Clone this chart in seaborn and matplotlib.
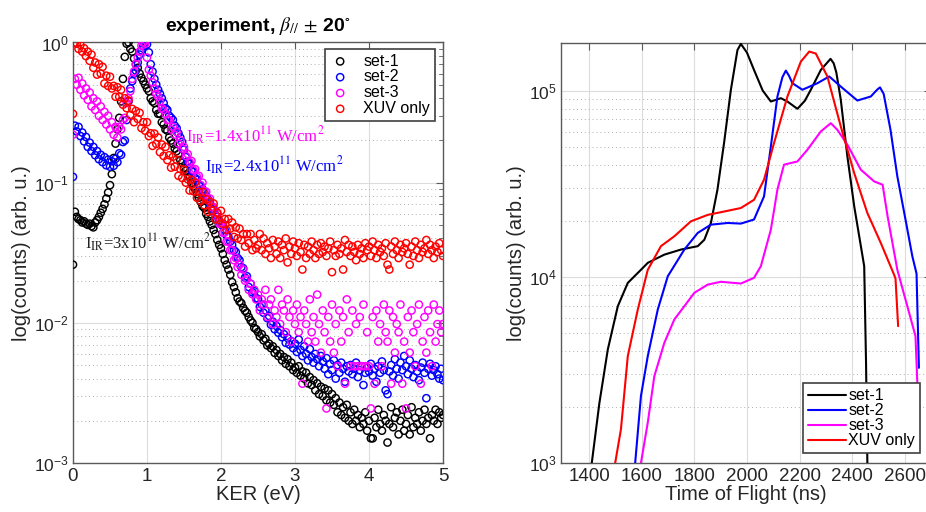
import numpy as np
import pandas as pd
import matplotlib
matplotlib.use("Agg")
import matplotlib.pyplot as plt
import seaborn as sns
from matplotlib.ticker import LogLocator, NullFormatter, FixedLocator

# ---------------- data: left panel (KER spectra, x = 0 ... 5 eV, 201 samples) ----------------
ker = np.linspace(0.0, 5.0, 201)

set1_ker = [
    0.026, 0.062, 0.057, 0.055, 0.054, 0.052, 0.053, 0.051, 0.050, 0.051,
    0.049, 0.048, 0.052, 0.054, 0.057, 0.061, 0.065, 0.070, 0.077, 0.085,
    0.096, 0.115, 0.15, 0.19, 0.24, 0.29, 0.38, 0.55, 0.79, 0.98,
    1.0, 0.90, 0.86, 0.77, 0.70, 0.66, 0.60, 0.56, 0.53, 0.50,
    0.47, 0.45, 0.40, 0.38, 0.37, 0.33, 0.31, 0.31, 0.27, 0.26,
    0.24, 0.235, 0.21, 0.20, 0.19, 0.175, 0.168, 0.16, 0.145, 0.139,
    0.128, 0.122, 0.114, 0.109, 0.100, 0.094, 0.090, 0.083, 0.078, 0.073,
    0.068, 0.066, 0.060, 0.057, 0.053, 0.050, 0.046, 0.043, 0.039, 0.036,
    0.034, 0.031, 0.028, 0.026, 0.024, 0.022, 0.0195, 0.018, 0.0165, 0.0150,
    0.0142, 0.0138, 0.0128, 0.0122, 0.0118, 0.0110, 0.0104, 0.0100, 0.0092, 0.0090,
    0.0086, 0.0080, 0.0083, 0.0075, 0.0077, 0.0069, 0.0071, 0.0066, 0.0068, 0.0061,
    0.0064, 0.0058, 0.0060, 0.0054, 0.0057, 0.0051, 0.0055, 0.0049, 0.0052, 0.0046,
    0.0048, 0.0044, 0.0049, 0.0042, 0.0045, 0.0040, 0.0044, 0.0037, 0.0041, 0.0036,
    0.0039, 0.0033, 0.0037, 0.0031, 0.0035, 0.0030, 0.0034, 0.0028, 0.0033, 0.0027,
    0.0031, 0.0026, 0.0029, 0.0023, 0.0027, 0.0022, 0.0025, 0.0021, 0.0026, 0.0020,
    0.0023, 0.0019, 0.0024, 0.0020, 0.0022, 0.0018, 0.0021, 0.0019, 0.0023, 0.0017,
    0.0020, 0.0015, 0.0015, 0.0021, 0.0018, 0.0024, 0.0019, 0.0017, 0.0022, 0.0020,
    0.0014, 0.0019, 0.0025, 0.0018, 0.0021, 0.0023, 0.0016, 0.0020, 0.0024, 0.0017,
    0.0019, 0.0022, 0.0016, 0.0025, 0.0018, 0.0021, 0.0019, 0.0023, 0.0017, 0.0020,
    0.0024, 0.0019, 0.0021, 0.0015, 0.0022, 0.0020, 0.0024, 0.0019, 0.0023, 0.0021,
    0.0022,
]

set2_ker = [
    0.110, 0.255, 0.232, 0.250, 0.215, 0.228, 0.197, 0.212, 0.180, 0.193,
    0.168, 0.180, 0.157, 0.168, 0.147, 0.158, 0.140, 0.152, 0.133, 0.146,
    0.130, 0.142, 0.132, 0.148, 0.140, 0.162, 0.158, 0.195, 0.20, 0.28,
    0.38, 0.47, 0.53, 0.60, 0.63, 0.72, 0.82, 0.88, 0.94, 1.0,
    0.97, 0.85, 0.70, 0.62, 0.55, 0.50, 0.46, 0.43, 0.40, 0.37,
    0.34, 0.33, 0.30, 0.29, 0.28, 0.255, 0.245, 0.225, 0.21, 0.195,
    0.172, 0.152, 0.142, 0.136, 0.122, 0.119, 0.108, 0.105, 0.097, 0.094,
    0.090, 0.084, 0.080, 0.076, 0.071, 0.067, 0.064, 0.059, 0.057, 0.053,
    0.051, 0.049, 0.046, 0.042, 0.041, 0.038, 0.036, 0.033, 0.032, 0.029,
    0.028, 0.025, 0.0245, 0.021, 0.0215, 0.018, 0.019, 0.0165, 0.0168, 0.0150,
    0.0148, 0.0130, 0.0135, 0.0118, 0.0123, 0.0108, 0.0112, 0.0097, 0.0102, 0.0090,
    0.0095, 0.0085, 0.0089, 0.0079, 0.0083, 0.0072, 0.0078, 0.0070, 0.0074, 0.0066,
    0.0071, 0.0062, 0.0076, 0.0064, 0.0058, 0.0068, 0.0060, 0.0054, 0.0065, 0.0057,
    0.0052, 0.0060, 0.0055, 0.0049, 0.0058, 0.0053, 0.0047, 0.0056, 0.0043, 0.0051,
    0.0046, 0.0054, 0.0040, 0.0050, 0.0044, 0.0052, 0.0047, 0.0038, 0.0049, 0.0045,
    0.0050, 0.0043, 0.0047, 0.0052, 0.0041, 0.0046, 0.0049, 0.0036, 0.0044, 0.0048,
    0.0045, 0.0051, 0.0042, 0.0047, 0.0038, 0.0049, 0.0044, 0.0053, 0.0046, 0.0033,
    0.0031, 0.0045, 0.0050, 0.0042, 0.0055, 0.0047, 0.0040, 0.0052, 0.0046, 0.0058,
    0.0049, 0.0043, 0.0054, 0.0047, 0.0041, 0.0050, 0.0045, 0.0039, 0.0048, 0.0052,
    0.0044, 0.0029, 0.0047, 0.0051, 0.0042, 0.0046, 0.0049, 0.0043, 0.0040, 0.0047,
    0.0039,
]

set3_ker = [
    0.22, 0.55, 0.50, 0.56, 0.46, 0.51, 0.42, 0.47, 0.39, 0.44,
    0.35, 0.40, 0.33, 0.38, 0.30, 0.35, 0.28, 0.32, 0.26, 0.30,
    0.24, 0.27, 0.22, 0.25, 0.21, 0.25, 0.24, 0.28, 0.29, 0.37,
    0.40, 0.45, 0.55, 0.62, 0.70, 0.78, 0.86, 0.95, 1.0, 0.98,
    0.78, 0.64, 0.58, 0.52, 0.47, 0.43, 0.41, 0.38, 0.34, 0.33,
    0.31, 0.28, 0.28, 0.24, 0.25, 0.22, 0.23, 0.19, 0.20, 0.175,
    0.18, 0.155, 0.16, 0.14, 0.143, 0.123, 0.125, 0.11, 0.112, 0.096,
    0.10, 0.087, 0.086, 0.075, 0.077, 0.067, 0.067, 0.058, 0.060, 0.051,
    0.051, 0.044, 0.044, 0.038, 0.038, 0.033, 0.033, 0.028, 0.029, 0.025,
    0.026, 0.022, 0.024, 0.020, 0.0205, 0.0172, 0.0190, 0.0160, 0.0172, 0.0147,
    0.0159, 0.01225, 0.0147, 0.0135, 0.0172, 0.0110, 0.0135, 0.0147, 0.0098, 0.01225,
    0.0110, 0.0172, 0.0098, 0.0135, 0.01225, 0.00858, 0.0147, 0.0110, 0.00735, 0.01225,
    0.0098, 0.0135, 0.00858, 0.0110, 0.00368, 0.01225, 0.0098, 0.00735, 0.0147, 0.00858,
    0.0110, 0.00735, 0.0159, 0.0098, 0.00613, 0.01225, 0.00858, 0.00245, 0.0110, 0.00735,
    0.0135, 0.00613, 0.0098, 0.0049, 0.01225, 0.00735, 0.0110, 0.00368, 0.0147, 0.00858,
    0.0049, 0.01225, 0.0049, 0.0098, 0.0049, 0.0110, 0.0049, 0.0135, 0.0049, 0.00858,
    0.0049, 0.00245, 0.0110, 0.00368, 0.01225, 0.00735, 0.0098, 0.0049, 0.0135, 0.00858,
    0.00735, 0.01225, 0.00368, 0.0110, 0.00613, 0.0098, 0.00858, 0.0135, 0.00368, 0.00735,
    0.00245, 0.0110, 0.00613, 0.01225, 0.00858, 0.0049, 0.0098, 0.0135, 0.00368, 0.00735,
    0.0110, 0.00613, 0.01225, 0.00858, 0.0049, 0.0135, 0.00735, 0.0098, 0.01225, 0.00858,
    0.0098,
]

xuv_ker = [
    0.31, 1.0, 0.98, 0.90, 0.96, 0.86, 0.91, 0.80, 0.86, 0.74,
    0.82, 0.66, 0.72, 0.59, 0.70, 0.60, 0.67, 0.51, 0.58, 0.49,
    0.57, 0.47, 0.49, 0.41, 0.48, 0.41, 0.46, 0.36, 0.40, 0.34,
    0.385, 0.305, 0.336, 0.27, 0.325, 0.285, 0.315, 0.245, 0.27, 0.235,
    0.27, 0.215, 0.225, 0.183, 0.224, 0.189, 0.21, 0.165, 0.187, 0.155,
    0.18, 0.145, 0.157, 0.128, 0.153, 0.13, 0.146, 0.112, 0.125, 0.108,
    0.124, 0.10, 0.106, 0.088, 0.105, 0.087, 0.10, 0.078, 0.086, 0.074,
    0.086, 0.069, 0.076, 0.062, 0.073, 0.063, 0.071, 0.055, 0.061, 0.054,
    0.063, 0.051, 0.055, 0.046, 0.055, 0.047, 0.052, 0.041, 0.048, 0.040,
    0.047, 0.039, 0.043, 0.035, 0.043, 0.037, 0.043, 0.033, 0.039, 0.034,
    0.036, 0.043, 0.033, 0.040, 0.031, 0.037, 0.034, 0.029, 0.039, 0.035,
    0.031, 0.038, 0.029, 0.036, 0.033, 0.040, 0.027, 0.035, 0.031, 0.038,
    0.034, 0.030, 0.037, 0.032, 0.024, 0.036, 0.029, 0.035, 0.031, 0.038,
    0.033, 0.029, 0.036, 0.031, 0.037, 0.032, 0.035, 0.030, 0.034, 0.038,
    0.023, 0.033, 0.030, 0.036, 0.031, 0.034, 0.024, 0.039, 0.032, 0.036,
    0.030, 0.035, 0.032, 0.028, 0.036, 0.031, 0.034, 0.029, 0.037, 0.033,
    0.035, 0.030, 0.038, 0.033, 0.029, 0.036, 0.032, 0.034, 0.030, 0.037,
    0.026, 0.024, 0.035, 0.031, 0.038, 0.033, 0.029, 0.036, 0.032, 0.034,
    0.037, 0.031, 0.026, 0.035, 0.030, 0.038, 0.033, 0.029, 0.036, 0.032,
    0.034, 0.039, 0.031, 0.036, 0.033, 0.029, 0.035, 0.032, 0.037, 0.033,
    0.030,
]

# ---------------- data: right panel (time-of-flight spectra) ----------------
tof1 = [1410, 1439, 1471, 1509, 1547, 1597, 1623, 1686, 1749, 1813, 1838, 1863, 1888, 1913,
        1939, 1964, 1977, 2000, 2027, 2060, 2091, 2129, 2154, 2192, 2220, 2243, 2281, 2318,
        2330, 2340, 2357, 2382, 2408, 2446, 2453, 2458]
cnt1 = [1000, 2100, 4070, 6950, 9270, 10900, 11880, 13150, 14000, 14600, 15800, 19450, 29400, 52200,
        100900, 165000, 178000, 160000, 129000, 100000, 87300, 91000, 87300, 79800, 88000, 101000, 129000, 148000,
        140000, 125000, 89100, 44300, 23900, 11400, 3450, 1000]

tof2 = [1575, 1597, 1623, 1661, 1699, 1762, 1813, 1863, 1927, 1977, 2027, 2065, 2091, 2116,
        2135, 2148, 2160, 2173, 2211, 2268, 2313, 2357, 2420, 2471, 2495, 2506, 2520, 2546,
        2572, 2603, 2629, 2645, 2654]
cnt2 = [1000, 2290, 3750, 6670, 10060, 14000, 17200, 19050, 19450, 19300, 20300, 27000, 50100, 92900,
        118000, 128000, 120000, 109500, 101000, 109500, 119000, 105000, 88400, 92900, 101000, 104000, 96000, 61500,
        34600, 20300, 12900, 10400, 3245]

tof3 = [1597, 1623, 1648, 1686, 1724, 1762, 1800, 1851, 1901, 1977, 2027, 2053, 2091, 2116,
        2141, 2192, 2230, 2281, 2319, 2344, 2382, 2433, 2484, 2516, 2535, 2572, 2610, 2641,
        2648, 2650]
cnt3 = [1000, 1650, 2930, 4420, 5900, 6950, 8200, 9080, 9400, 9200, 9870, 11400, 17900, 29400,
        40000, 41600, 48100, 60300, 66800, 61500, 51200, 37600, 32500, 31200, 21100, 10900, 6950, 4800,
        2700, 2590]

tof4 = [1499, 1521, 1547, 1585, 1623, 1673, 1724, 1787, 1851, 1913, 1977, 2027, 2065, 2103,
        2154, 2205, 2237, 2262, 2306, 2357, 2408, 2458, 2509, 2559, 2565, 2575]
cnt4 = [1000, 1520, 3750, 6670, 10900, 14600, 16500, 19850, 21500, 22400, 23400, 25900, 33200, 52200,
        92900, 143000, 162000, 158000, 119000, 64100, 36000, 22000, 15200, 10300, 9800, 5430]

labels = ["set-1", "set-2", "set-3", "XUV only"]
colors = ["#000000", "#0000ff", "#ff00ff", "#ff0000"]
ker_tick_vals = [0, 1, 2, 3, 4, 5]
tof_tick_vals = [1400, 1600, 1800, 2000, 2200, 2400, 2600]

# ---------------- style ----------------
sns.set_style("white")
plt.rcParams["font.family"] = ["Liberation Sans", "DejaVu Sans"]
plt.rcParams["mathtext.fontset"] = "stix"
plt.rcParams["axes.unicode_minus"] = True

TXT = "#262626"
SPINE = "#5a5a5a"

fig = plt.figure(figsize=(9.26, 5.12), dpi=100)
ax1 = fig.add_axes([73 / 926, 0.0957, 370 / 926, 0.8213])
ax2 = fig.add_axes([561 / 926, 0.0957, 370 / 926, 0.8203])


def style_axes(ax):
    for s in ax.spines.values():
        s.set_visible(True)
        s.set_color(SPINE)
        s.set_linewidth(1.0)
    ax.tick_params(which="both", direction="in", top=True, right=True,
                   colors=SPINE, labelcolor=TXT)
    ax.tick_params(axis="x", labelsize=13.5)
    ax.tick_params(axis="y", labelsize=12.5, pad=3)
    ax.tick_params(which="major", length=5, width=0.8)
    ax.tick_params(which="minor", length=3, width=0.6)
    ax.grid(which="major", color="#dcdcdc", linewidth=0.8, linestyle="-")
    ax.grid(which="minor", axis="y", color="#b0b0b0", linewidth=0.7, linestyle=(0, (1, 3)))
    ax.set_axisbelow(True)


# ---------------- left panel ----------------
left_series = [set1_ker, set2_ker, set3_ker, xuv_ker]
frames = [pd.DataFrame({"KER": ker, "counts": v, "series": lab}) for v, lab in zip(left_series, labels)]
df_left = pd.concat(frames, ignore_index=True)

ax1.set_yscale("log")
for lab, col in zip(labels, colors):
    sub = df_left[df_left["series"] == lab]
    sns.scatterplot(data=sub, x="KER", y="counts", ax=ax1, marker="o", s=27,
                    color=col, facecolor="none", edgecolor=col, linewidth=1.05,
                    label=lab, zorder=3)

ax1.set_xlim(0, 5)
ax1.set_ylim(1e-3, 1.0)
ax1.xaxis.set_major_locator(FixedLocator(ker_tick_vals))
ax1.set_xticklabels([str(t) for t in ker_tick_vals])
ax1.yaxis.set_major_locator(LogLocator(base=10, numticks=10))
ax1.yaxis.set_minor_locator(LogLocator(base=10, subs=np.arange(2, 10), numticks=20))
ax1.yaxis.set_minor_formatter(NullFormatter())
style_axes(ax1)
ax1.set_xlabel("KER (eV)", fontsize=14.5, color=TXT, labelpad=0)
ax1.set_ylabel("log(counts) (arb. u.)", fontsize=14.5, color=TXT, labelpad=2)
ax1.set_title(r"experiment, $\beta_{//}$ $\pm$ 20$^{\circ}$", fontsize=14,
              fontweight="bold", color="black", pad=8)

leg1 = ax1.legend(loc="upper right", bbox_to_anchor=(0.978, 0.985), fontsize=11.5,
                  frameon=True, fancybox=False, framealpha=1, edgecolor="#404040",
                  handlelength=1.3, handletextpad=0.8, labelspacing=0.05,
                  borderpad=0.3, borderaxespad=0.0, markerscale=1.0)
leg1.get_frame().set_linewidth(1.2)
for t in leg1.get_texts():
    t.set_color("black")

ann_font = ["Liberation Serif", "DejaVu Serif"]
ax1.text(1.527, 0.195, r"I$_{\mathrm{IR}}$=1.4x10$^{11}$ W/cm$^{2}$", color="#ff00ff",
         fontsize=12, family=ann_font, va="baseline", ha="left", zorder=5)
ax1.text(1.784, 0.119, r"I$_{\mathrm{IR}}$=2.4x10$^{11}$ W/cm$^{2}$", color="#0000ff",
         fontsize=12, family=ann_font, va="baseline", ha="left", zorder=5)
ax1.text(0.162, 0.0339, r"I$_{\mathrm{IR}}$=3x10$^{11}$ W/cm$^{2}$", color="#222222",
         fontsize=12, family=ann_font, va="baseline", ha="left", zorder=5)

# ---------------- right panel ----------------
ax2.set_yscale("log")
for tx, cy, lab, col in zip([tof1, tof2, tof3, tof4], [cnt1, cnt2, cnt3, cnt4], labels, colors):
    dfr = pd.DataFrame({"tof": tx, "counts": cy})
    sns.lineplot(data=dfr, x="tof", y="counts", ax=ax2, color=col, linewidth=1.5,
                 label=lab, estimator=None, sort=False, zorder=3)

ax2.set_xlim(1293, 2700)
ax2.set_ylim(1e3, 1.8e5)
ax2.xaxis.set_major_locator(FixedLocator(tof_tick_vals))
ax2.set_xticklabels([str(t) for t in tof_tick_vals])
ax2.yaxis.set_major_locator(LogLocator(base=10, numticks=10))
ax2.yaxis.set_minor_locator(LogLocator(base=10, subs=np.arange(2, 10), numticks=20))
ax2.yaxis.set_minor_formatter(NullFormatter())
style_axes(ax2)
ax2.set_xlabel("Time of Flight (ns)", fontsize=14.5, color=TXT, labelpad=0)
ax2.set_ylabel("log(counts) (arb. u.)", fontsize=14.5, color=TXT, labelpad=2)

leg2 = ax2.legend(loc="lower right", bbox_to_anchor=(0.970, 0.024), fontsize=11.5,
                  frameon=True, fancybox=False, framealpha=1, edgecolor="#404040",
                  handlelength=2.4, handletextpad=0.15, labelspacing=0.0,
                  borderpad=0.3, borderaxespad=0.0)
leg2.get_frame().set_linewidth(1.2)
for t in leg2.get_texts():
    t.set_color("black")

fig.savefig("out.png", dpi=100, facecolor="white")
